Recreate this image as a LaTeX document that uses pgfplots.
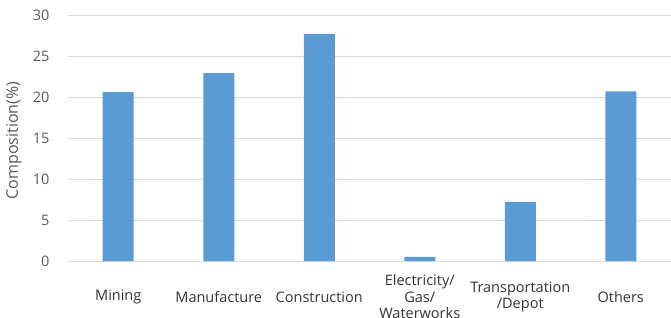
\documentclass[border=0pt]{standalone}
\usepackage{pgfplots}
\pgfplotsset{compat=1.18}
\usepackage{fontspec}
\setmainfont{Open Sans}
\definecolor{barblue}{HTML}{5B9BD5}
\definecolor{txtgray}{HTML}{595959}
\definecolor{gridgray}{HTML}{D9D9D9}
\begin{document}
\begin{tikzpicture}
\begin{axis}[
  at={(0,0)}, anchor=south west,
  scale only axis, width=603pt, height=246pt,
  xmin=-0.5, xmax=5.5, ymin=0, ymax=30,
  ytick={0,5,...,30},
  xtick={0,1,2,3,4,5},
  xticklabels={Mining,Manufacture,Construction,{Electricity/\\Gas/\\Waterworks},{Transportation\\/Depot},Others},
  axis line style={draw=none},
  major tick length=0pt,
  ymajorgrids, grid style={gridgray, line width=0.8pt},
  /pgf/number format/assume math mode=true,
  yticklabel style={font=\fontsize{14.5}{14.5}\selectfont, text=txtgray, anchor=east, xshift=-15pt},
  xticklabel style={font=\fontsize{14.5}{16.5}\selectfont, text=black!80, align=center, anchor=center, yshift=-36pt},
  ylabel={Composition(\%)},
  ylabel style={font=\fontsize{16}{16}\selectfont, text=txtgray, at={(axis description cs:-0.0896,0.49)}, anchor=center},
]
\addplot[ybar, bar width=31pt, fill=barblue, draw=none] coordinates {
(0,20.6) (1,22.9) (2,27.7) (3,0.5) (4,7.2) (5,20.7)};
\end{axis}
\pgfresetboundingbox
\path (-68pt,-56pt) rectangle (603pt,261pt);
\end{tikzpicture}
\end{document}
